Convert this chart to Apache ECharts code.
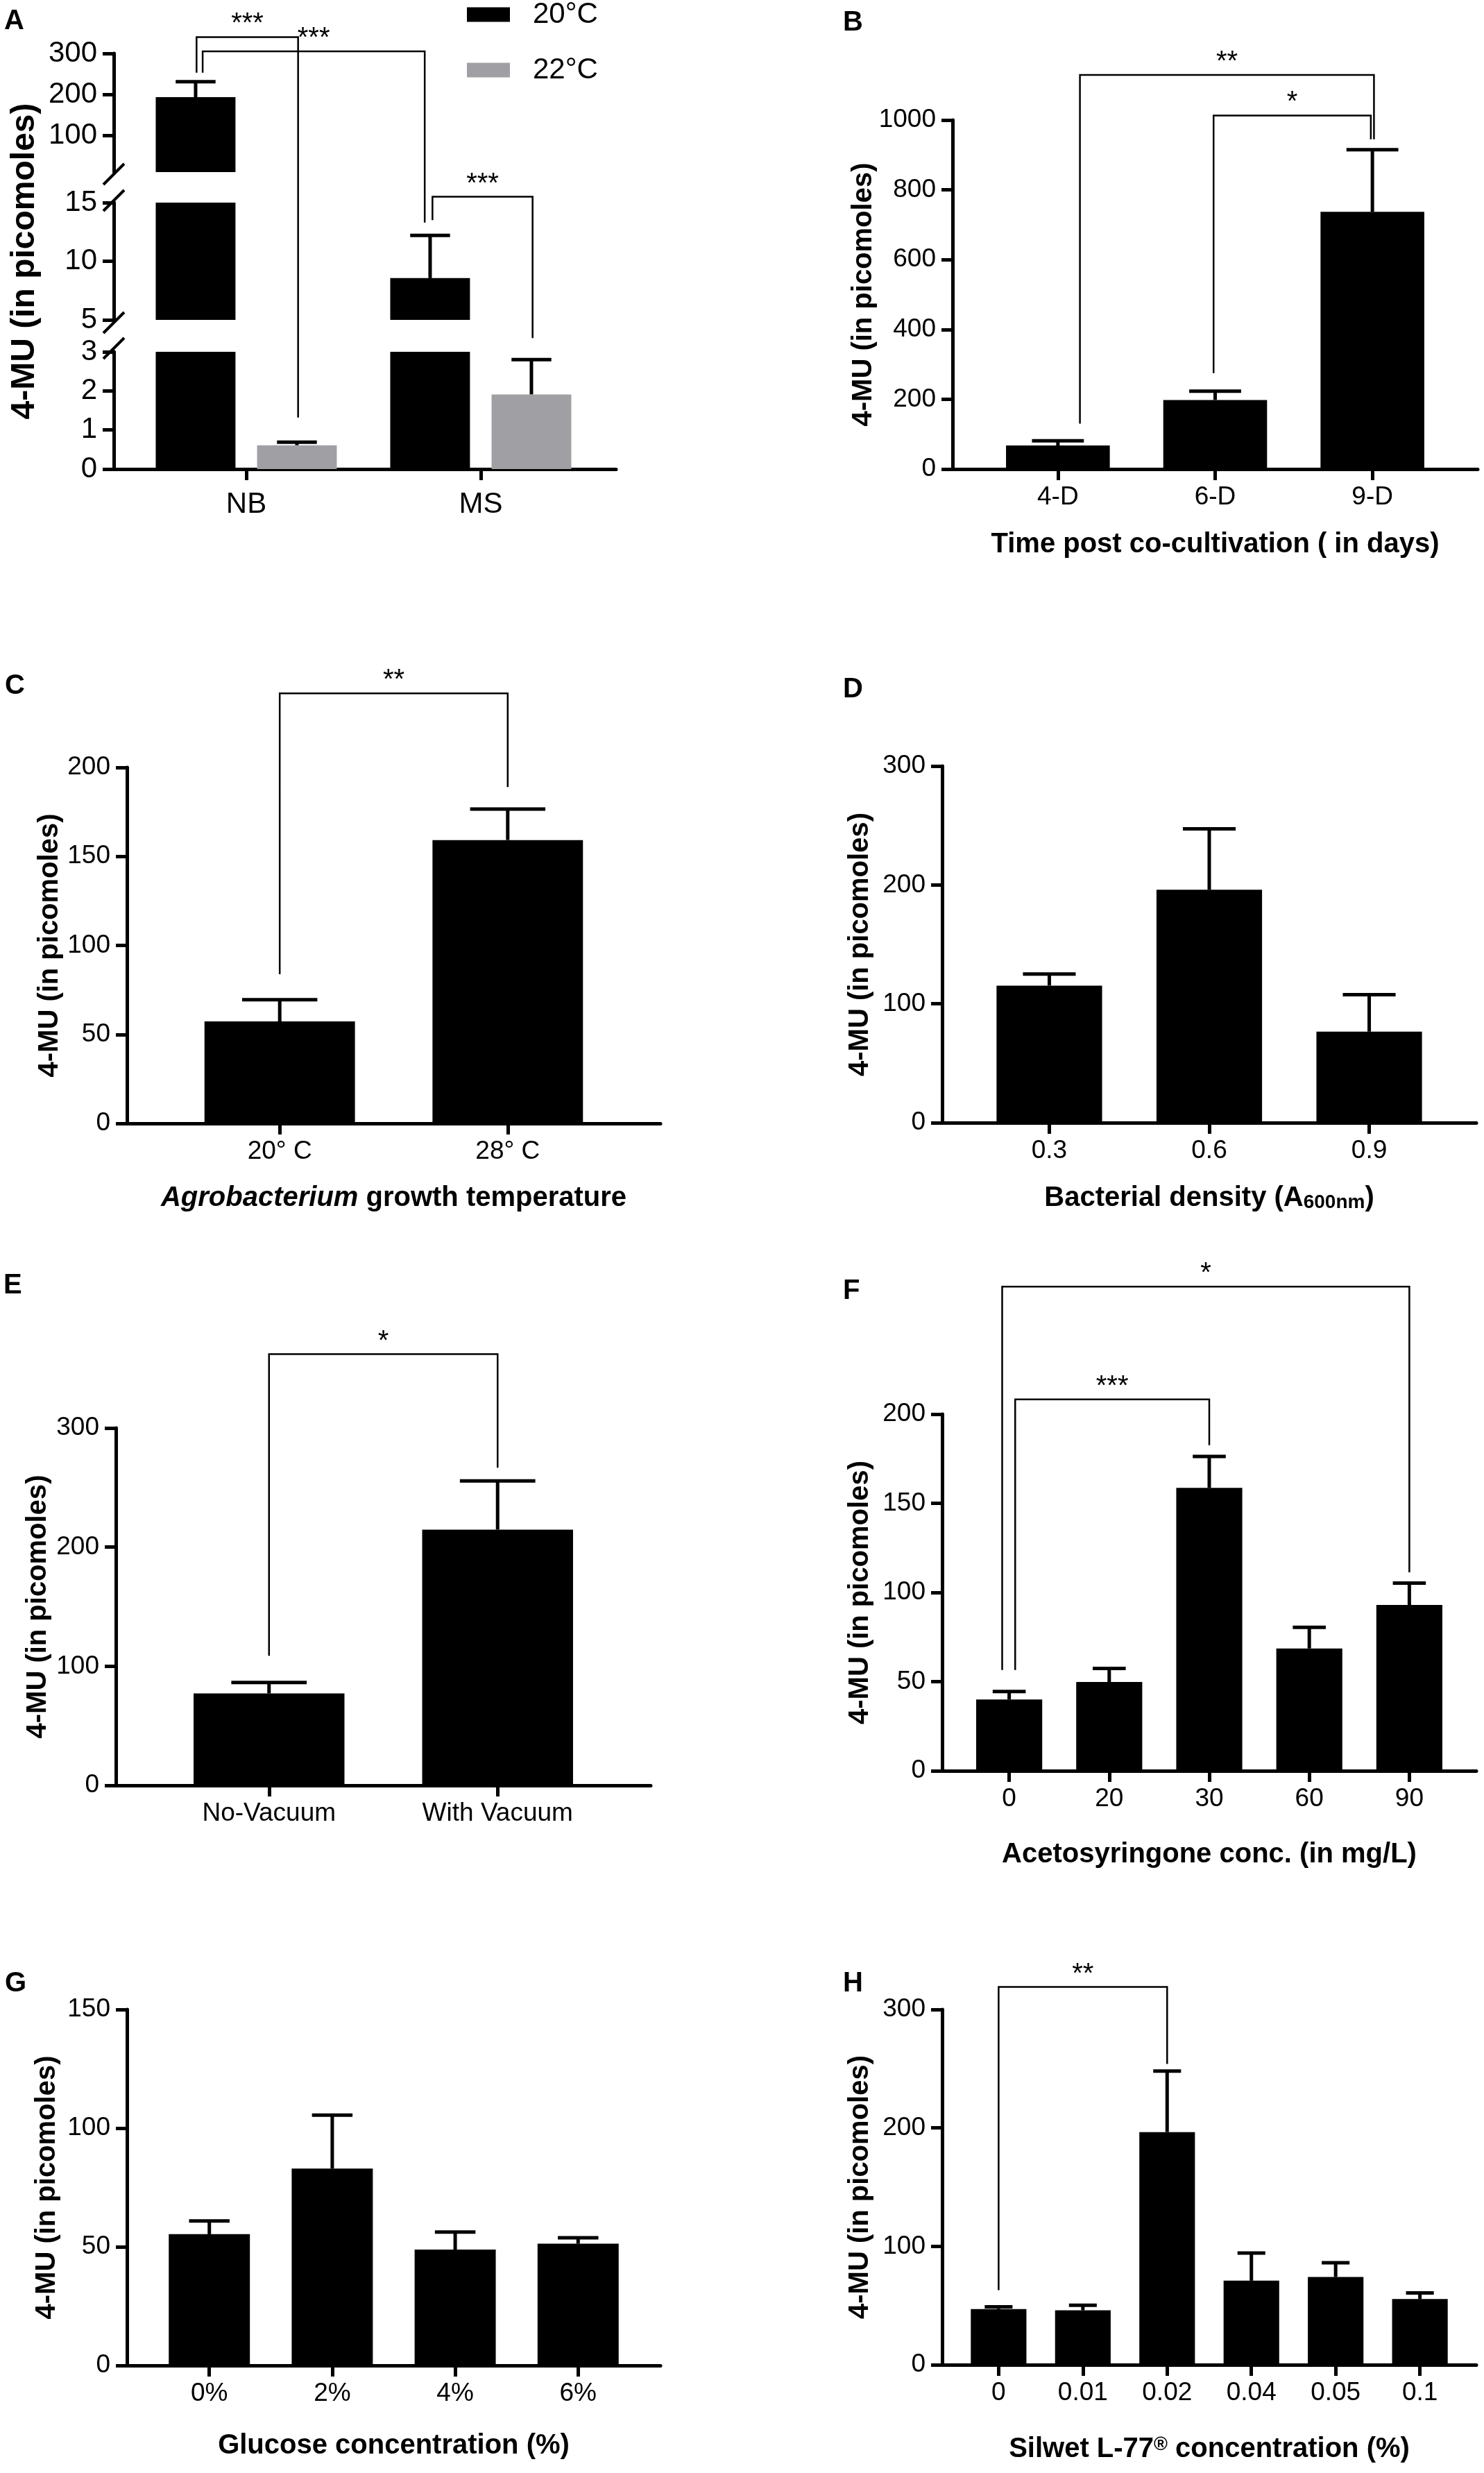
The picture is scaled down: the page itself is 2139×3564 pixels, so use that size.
<!DOCTYPE html>
<html>
<head>
<meta charset="utf-8">
<title>4-MU panels</title>
<script src="https://cdn.jsdelivr.net/npm/echarts@6.0.0/dist/echarts.min.js"></script>
<style>
  html, body { margin: 0; padding: 0; background: #fff; }
  #main { width: 2139px; height: 3564px; }
</style>
</head>
<body>
<div id="main"></div>
<script>
const FONT = "'Liberation Sans', Arial, Helvetica, sans-serif";
const Y_TITLE = '4-MU (in picomoles)';

// A - medium, two temperatures, broken y axis (3 segments, top to bottom)
const catsA = ['NB', 'MS'];
const namesA = ['20°C', '22°C'];
const meanA20 = [193, 8.56];
const errA20 = [38, 3.64];
const meanA22 = [0.61, 1.91];
const errA22 = [0.08, 0.89];
const segRangesA = [[10, 300], [5, 15], [0, 3]];
const segTicksA = [[100, 200, 300], [5, 10, 15], [0, 1, 2, 3]];
// x = category position, y = [value, segment]
const bracketsA = [
  { x1: 0.788, x2: 1.221, top: [340, 0], y1: [253, 0], y2: [1.32, 2], text: '***' },
  { x1: 0.814, x2: 1.761, top: [305, 0], y1: [253, 0], y2: [13.3, 1], text: '***' },
  { x1: 1.794, x2: 2.221, top: [15.5, 1], y1: [13.5, 1], y2: [3.35, 2], text: '***' }
];

// B - time post co-cultivation
const catsB = ['4-D', '6-D', '9-D'];
const meanB = [67.5, 198, 737];
const errB = [13.5, 25, 178];
const yTicksB = [0, 200, 400, 600, 800, 1000];
const bracketsB = [
  { x1: 1.14, x2: 3.01, top: 1129, y1: 130, y2: 945, text: '**' },
  { x1: 1.99, x2: 2.99, top: 1013, y1: 275, y2: 945, text: '*' }
];

// C - Agrobacterium growth temperature
const catsC = ['20° C', '28° C'];
const meanC = [57.3, 159.2];
const errC = [12.2, 17.4];
const yTicksC = [0, 50, 100, 150, 200];
const bracketsC = [{ x1: 1, x2: 2, top: 241.6, y1: 83.8, y2: 189, text: '**' }];

// D - bacterial density
const catsD = ['0.3', '0.6', '0.9'];
const meanD = [115.3, 195.9, 76.6];
const errD = [9.8, 51.3, 31.1];
const yTicksD = [0, 100, 200, 300];

// E - vacuum
const catsE = ['No-Vacuum', 'With Vacuum'];
const meanE = [77.2, 214.7];
const errE = [9.1, 40.9];
const yTicksE = [0, 100, 200, 300];
const bracketsE = [{ x1: 1, x2: 2, top: 362, y1: 108.8, y2: 266.6, text: '*' }];

// F - acetosyringone
const catsF = ['0', '20', '30', '60', '90'];
const meanF = [40.0, 49.8, 158.7, 68.6, 93.0];
const errF = [4.5, 7.6, 17.6, 11.8, 12.3];
const yTicksF = [0, 50, 100, 150, 200];
const bracketsF = [
  { x1: 0.93, x2: 5.0, top: 271.5, y1: 56.5, y2: 111.3, text: '*' },
  { x1: 1.06, x2: 3.0, top: 208.3, y1: 56.5, y2: 182.6, text: '***' }
];

// G - glucose
const catsG = ['0%', '2%', '4%', '6%'];
const meanG = [55.3, 83.0, 48.8, 51.3];
const errG = [5.6, 22.5, 7.4, 2.5];
const yTicksG = [0, 50, 100, 150];

// H - Silwet L-77
const catsH = ['0', '0.01', '0.02', '0.04', '0.05', '0.1'];
const meanH = [47, 46, 196.5, 71, 74.1, 55.5];
const errH = [1.9, 4.2, 51.5, 23.3, 12, 5.1];
const yTicksH = [0, 100, 200, 300];
const bracketsH = [{ x1: 1, x2: 3, top: 319, y1: 63, y2: 254, text: '**' }];

// page layout in px
const LAYOUT = {
  A: { x0: 164, x1: 888, xMin: 0.435, xMax: 2.577, segTops: [77, 292, 507], segBottoms: [248, 461, 676], yGap: 128 },
  B: { x0: 1373, x1: 2130, y0: 173, y1: 676, yGap: 128, xGap: 109 },
  C: { x0: 183, x1: 952, y0: 1106, y1: 1619, yGap: 111, xGap: 108 },
  D: { x0: 1358, x1: 2128, y0: 1104, y1: 1618, yGap: 118, xGap: 109 },
  E: { x0: 167, x1: 938, y0: 2058, y1: 2573, yGap: 112 },
  F: { x0: 1358, x1: 2128, y0: 2038, y1: 2552, yGap: 118, xGap: 121 },
  G: { x0: 183, x1: 952, y0: 2896, y1: 3409, yGap: 115, xGap: 116 },
  H: { x0: 1358, x1: 2128, y0: 2896, y1: 3408, yGap: 118, xGap: 122 }
};
const LETTERS = [
  ['A', 6, 11], ['B', 1215, 13], ['C', 7, 969], ['D', 1215, 974],
  ['E', 5, 1833], ['F', 1215, 1841], ['G', 7, 2839], ['H', 1215, 2839]
];

const chart = echarts.init(document.getElementById('main'), null, { renderer: 'canvas' });

const option = {
  animation: false,
  backgroundColor: '#ffffff',
  textStyle: { fontFamily: FONT, color: '#000' },
  legend: {
    data: namesA,
    left: 673, top: 0, padding: 0,
    orient: 'vertical',
    icon: 'rect',
    itemWidth: 62, itemHeight: 21, itemGap: 38,
    textStyle: { fontSize: 42, color: '#000', fontFamily: FONT, padding: [0, 0, 0, 28] },
    selectedMode: false
  },
  grid: [], xAxis: [], yAxis: [], series: []
};
const bracketJobs = [];

function lineAxis() {
  return { show: true, onZero: false, lineStyle: { color: '#000', width: 5 } };
}

function titleStyle(size) {
  return {
    fontSize: size, fontWeight: 'bold', color: '#000', fontFamily: FONT, verticalAlign: 'middle',
    rich: {
      i: { fontSize: size, fontWeight: 'bold', fontStyle: 'italic', fontFamily: FONT },
      sub: { fontSize: 28, fontWeight: 'bold', fontFamily: FONT, verticalAlign: 'bottom', lineHeight: 6 },
      sup: { fontSize: 27, fontFamily: FONT, verticalAlign: 'top', lineHeight: 14 }
    }
  };
}

function makeXAxis(gi, L, cats, labelSize, extra) {
  const pos = cats.map((c, i) => i + 1);
  return Object.assign({
    type: 'value', gridIndex: gi, min: L.xMin, max: L.xMax,
    axisLine: lineAxis(),
    axisTick: { show: true, customValues: pos, length: 16, lineStyle: { color: '#000', width: 5 } },
    axisLabel: {
      show: true, customValues: pos, fontSize: labelSize, color: '#000', margin: 22, fontFamily: FONT,
      formatter: v => cats[Math.round(v) - 1] || ''
    },
    splitLine: { show: false }
  }, extra || {});
}

function makeYAxis(gi, ticks, labelSize, extra) {
  return Object.assign({
    type: 'value', gridIndex: gi, min: ticks[0], max: ticks[ticks.length - 1],
    axisLine: lineAxis(),
    axisTick: { show: true, customValues: ticks, length: 16, lineStyle: { color: '#000', width: 5 } },
    axisLabel: {
      show: true, customValues: ticks, fontSize: labelSize, color: '#000', margin: 24, fontFamily: FONT,
      formatter: v => String(v)
    },
    splitLine: { show: false }
  }, extra || {});
}

function yName(gap, size) {
  return {
    name: Y_TITLE, nameLocation: 'middle', nameRotate: 90, nameGap: gap,
    nameMoveOverlap: false, nameTextStyle: titleStyle(size)
  };
}

// upward SEM bars: data rows are [x, mean, err]
function errorSeries(gi, rows, capW, dx) {
  return {
    type: 'custom', xAxisIndex: gi, yAxisIndex: gi, z: 5, silent: true,
    data: rows,
    renderItem: function (params, api) {
      const p0 = api.coord([api.value(0), api.value(1)]);
      const p1 = api.coord([api.value(0), api.value(1) + api.value(2)]);
      const x = p0[0] + dx;
      const st = { stroke: '#000', lineWidth: 5 };
      return {
        type: 'group',
        children: [
          { type: 'line', shape: { x1: x, y1: p0[1], x2: x, y2: p1[1] }, style: st },
          { type: 'line', shape: { x1: x - capW / 2, y1: p1[1], x2: x + capW / 2, y2: p1[1] }, style: st }
        ]
      };
    }
  };
}

function simplePanel(L, cats, means, errs, yTicks, xName, brackets) {
  const gi = option.grid.length;
  L.xMin = 0.33;
  L.xMax = cats.length + 0.67;
  option.grid.push({ left: L.x0, top: L.y0, width: L.x1 - L.x0, height: L.y1 - L.y0, outerBoundsMode: 'none' });
  const xExtra = xName ? {
    name: xName, nameLocation: 'middle', nameGap: L.xGap, nameMoveOverlap: false, nameTextStyle: titleStyle(40)
  } : {};
  option.xAxis.push(makeXAxis(gi, L, cats, 37, xExtra));
  option.yAxis.push(makeYAxis(gi, yTicks, 37, yName(L.yGap, 40)));
  const bw = 0.66 * (L.x1 - L.x0) / (L.xMax - L.xMin);
  option.series.push({
    type: 'bar', name: 'bars' + gi, xAxisIndex: gi, yAxisIndex: gi, barWidth: bw, clip: true,
    itemStyle: { color: '#000' }, silent: true,
    data: means.map((m, i) => [i + 1, m])
  });
  option.series.push(errorSeries(gi, means.map((m, i) => [i + 1, m, errs[i]]), bw / 2, 0));
  (brackets || []).forEach(b => bracketJobs.push({
    x1: b.x1, x2: b.x2, top: [b.top, gi], y1: [b.y1, gi], y2: [b.y2, gi], text: b.text
  }));
}

const gridsA = [];
function panelA() {
  const L = LAYOUT.A;
  const S = (L.x1 - L.x0) / (L.xMax - L.xMin);
  const bw = 0.34 * S;
  const gap = 0.092 * S;
  const groups = [[meanA20, errA20, '#000000'], [meanA22, errA22, '#a0a0a4']];
  segRangesA.forEach((r, s) => {
    const gi = option.grid.length;
    gridsA.push(gi);
    const last = s === segRangesA.length - 1;
    option.grid.push({
      left: L.x0, top: L.segTops[s], width: L.x1 - L.x0,
      height: L.segBottoms[s] - L.segTops[s], outerBoundsMode: 'none'
    });
    const xa = makeXAxis(gi, L, catsA, 42, last ? {} : { show: false });
    xa.axisLabel.margin = 30;
    option.xAxis.push(xa);
    option.yAxis.push(makeYAxis(gi, segTicksA[s], 42,
      Object.assign({ min: r[0], max: r[1] }, s === 1 ? yName(L.yGap, 48) : {})));
    groups.forEach((g, k) => {
      option.series.push({
        type: 'bar', name: namesA[k], xAxisIndex: gi, yAxisIndex: gi,
        barWidth: bw, barGap: (gap / bw * 100).toFixed(1) + '%', clip: true, silent: true,
        itemStyle: { color: g[2] },
        data: g[0].map((m, i) => [i + 1, m])
      });
      // an error bar belongs to the segment that holds both its ends
      const rows = [];
      g[0].forEach((m, i) => {
        if (m >= r[0] && m + g[1][i] <= r[1]) rows.push([i + 1, m, g[1][i]]);
      });
      const dx = (k === 0 ? -1 : 1) * (bw + gap) / 2;
      option.series.push(errorSeries(gi, rows, bw / 2, dx));
    });
  });
  bracketsA.forEach(b => bracketJobs.push({
    x1: b.x1, x2: b.x2,
    top: [b.top[0], gridsA[b.top[1]]], y1: [b.y1[0], gridsA[b.y1[1]]], y2: [b.y2[0], gridsA[b.y2[1]]],
    text: b.text
  }));
}

panelA();
simplePanel(LAYOUT.B, catsB, meanB, errB, yTicksB, 'Time post co-cultivation ( in days)', bracketsB);
simplePanel(LAYOUT.C, catsC, meanC, errC, yTicksC, '{i|Agrobacterium} growth temperature', bracketsC);
simplePanel(LAYOUT.D, catsD, meanD, errD, yTicksD, 'Bacterial density (A{sub|600nm})', []);
simplePanel(LAYOUT.E, catsE, meanE, errE, yTicksE, '', bracketsE);
simplePanel(LAYOUT.F, catsF, meanF, errF, yTicksF, 'Acetosyringone conc. (in mg/L)', bracketsF);
simplePanel(LAYOUT.G, catsG, meanG, errG, yTicksG, 'Glucose concentration (%)', []);
simplePanel(LAYOUT.H, catsH, meanH, errH, yTicksH, 'Silwet L-77{sup|®} concentration (%)', bracketsH);

chart.setOption(option);

// annotations placed through the axes
const graphics = [];
LETTERS.forEach(l => graphics.push({
  type: 'text', x: l[1], y: l[2], silent: true,
  style: { text: l[0], fontSize: 40, fontWeight: 'bold', fontFamily: FONT, fill: '#000', verticalAlign: 'top' }
}));

function toPx(x, yv) {
  return chart.convertToPixel({ gridIndex: yv[1] }, [x, yv[0]]);
}
bracketJobs.forEach(b => {
  const t1 = toPx(b.x1, b.top), t2 = toPx(b.x2, b.top);
  const e1 = toPx(b.x1, b.y1), e2 = toPx(b.x2, b.y2);
  graphics.push({
    type: 'polyline', silent: true, z: 10,
    shape: { points: [e1, t1, t2, e2] },
    style: { stroke: '#000', lineWidth: 2.5, fill: 'none' }
  });
  graphics.push({
    type: 'text', silent: true, z: 10,
    x: (t1[0] + t2[0]) / 2, y: t1[1] - 18,
    style: { text: b.text, fontSize: 40, fontFamily: FONT, fill: '#000', align: 'center', verticalAlign: 'middle' }
  });
});

// break marks on the A axis
const LA = LAYOUT.A;
const breakYs = [LA.segBottoms[0] + 3, LA.segTops[1] - 3, LA.segBottoms[1] + 4, LA.segTops[2] - 5];
breakYs.forEach(y => graphics.push({
  type: 'line', silent: true, z: 10,
  shape: { x1: LA.x0 - 15, y1: y + 15, x2: LA.x0 + 15, y2: y - 15 },
  style: { stroke: '#000', lineWidth: 4 }
}));

chart.setOption({ graphic: graphics });
</script>
</body>
</html>
